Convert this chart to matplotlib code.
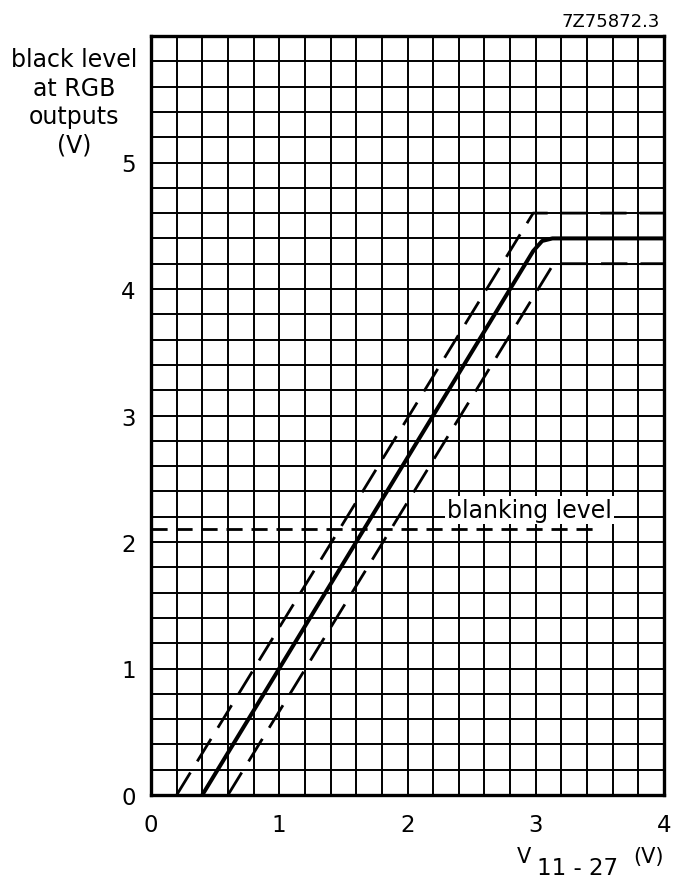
import numpy as np
import matplotlib
matplotlib.use("Agg")
import matplotlib.pyplot as plt

# ---- data ----
solid_x = [0.4, 2.98, 3.05, 3.13, 4.0]
solid_y = [0.0, 4.30, 4.38, 4.40, 4.40]
upper_x = [0.2, 2.98, 4.0]
upper_y = [0.0, 4.6, 4.6]
lower_x = [0.6, 3.14, 4.0]
lower_y = [0.0, 4.2, 4.2]
blank_x = [0.0, 3.45]
blank_y = [2.1, 2.1]
xticks = [0, 1, 2, 3, 4]
yticks = [0, 1, 2, 3, 4, 5]
ylabel_lines = ["black level", "at RGB", "outputs", "(V)"]

W, H = 674, 879
plt.rcParams['font.family'] = ['DejaVu Sans']
fig = plt.figure(figsize=(W / 100, H / 100), dpi=100)
ax = fig.add_axes([151 / W, 83 / H, 513 / W, 759 / H])
ax.set_xlim(0, 4)
ax.set_ylim(0, 6)

ax.set_xticks(xticks)
ax.set_yticks(yticks)
ax.set_xticks(np.arange(0, 4.001, 0.2), minor=True)
ax.set_yticks(np.arange(0, 6.001, 0.2), minor=True)
ax.tick_params(which='both', length=0)
ax.tick_params(axis='x', pad=13, labelsize=16.5)
ax.tick_params(axis='y', pad=11, labelsize=16.5)
ax.grid(which='both', color='black', linewidth=1.4, zorder=1)
ax.set_axisbelow(True)
for s in ax.spines.values():
    s.set_linewidth(2.4)
    s.set_zorder(5)

lw_d = 2.0
ax.plot(solid_x, solid_y, color='black', linewidth=2.9, solid_joinstyle='round', zorder=4)
ax.plot(upper_x, upper_y, color='black', linewidth=lw_d, linestyle=(0, (9.5, 4.7)), zorder=4)
ax.plot(lower_x, lower_y, color='black', linewidth=lw_d, linestyle=(0, (9.5, 4.7)), zorder=4)
ax.plot(blank_x, blank_y, color='black', linewidth=lw_d, linestyle=(0, (5.8, 3.2)), zorder=4)

ax.text(2.95, 2.2, "blanking level", fontsize=17, ha='center', va='baseline', zorder=3,
        bbox=dict(facecolor='white', edgecolor='none', pad=1.5))

# y-axis label lines
base_y = [66.7, 96.0, 124.0, 152.0]
for line, by in zip(ylabel_lines, base_y):
    fig.text(74 / W, 1 - by / H, line, fontsize=17, ha='center', va='baseline')

# x-axis label
fig.text(524 / W, 1 - 863 / H, "V", fontsize=15, ha='center', va='baseline')
fig.text(537 / W, 1 - 875 / H, "11 - 27", fontsize=16.5, ha='left', va='baseline')
fig.text(633 / W, 1 - 863 / H, "(V)", fontsize=15, ha='left', va='baseline')

fig.text(660 / W, 1 - 27 / H, "7Z75872.3", fontsize=13, ha='right', va='baseline')

fig.savefig("out.png", dpi=100)
